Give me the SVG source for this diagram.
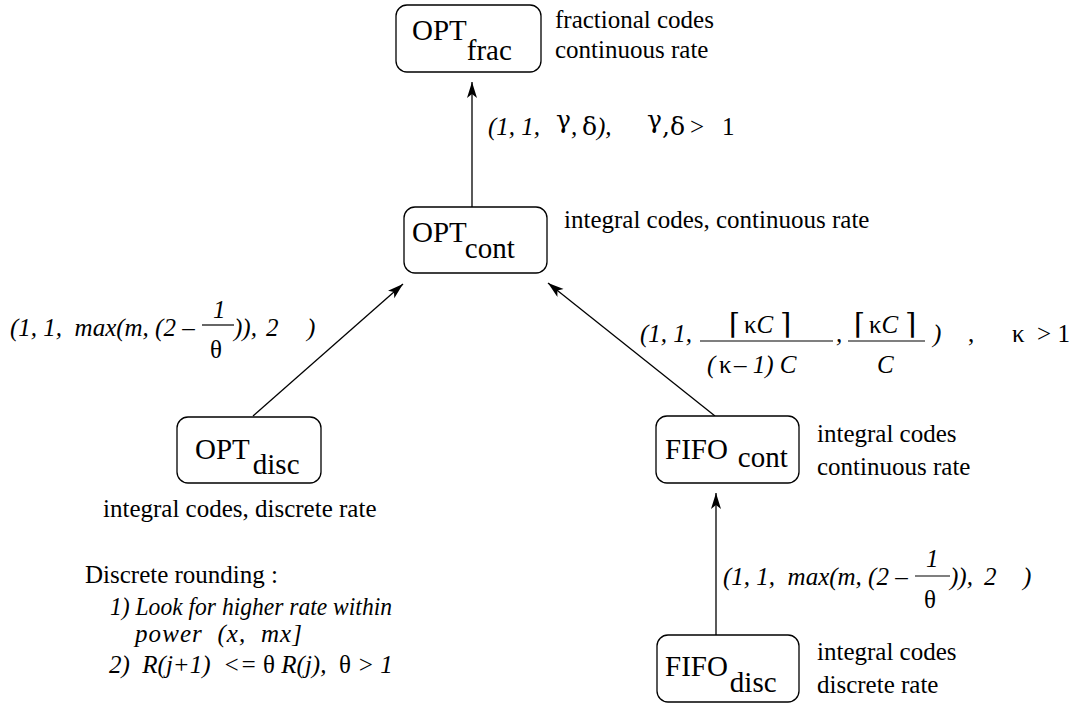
<svg xmlns="http://www.w3.org/2000/svg" width="1069" height="707" viewBox="0 0 1069 707">
<style>
  text { font-family: "Liberation Serif", "Times New Roman", "DejaVu Serif", serif; fill: #000; white-space: pre; }
  .node { font-size: 29px; }
  .lbl { font-size: 25px; }
  .it { font-size: 25px; font-style: italic; }
  .sym { font-size: 25px; font-family: "DejaVu Serif", "Liberation Serif", serif; }
  .ceil { font-size: 29px; font-family: "DejaVu Serif", "Liberation Serif", serif; }
  .box { fill: #fff; stroke: #000; stroke-width: 1.3; }
  .edge { stroke: #000; stroke-width: 1.3; fill: none; }
  .bar { stroke: #000; stroke-width: 1.2; }
</style>
<defs>
  <marker id="arr" markerUnits="userSpaceOnUse" markerWidth="18" markerHeight="12" refX="16" refY="5" orient="auto">
    <path d="M0,0 L16,5 L0,10 L4,5 Z" fill="#000"/>
  </marker>
</defs>

<g id="connectors">
  <line class="edge" x1="472" y1="207" x2="472" y2="82" marker-end="url(#arr)"/>
  <line class="edge" x1="253" y1="416" x2="403" y2="284" marker-end="url(#arr)"/>
  <line class="edge" x1="715" y1="416" x2="548" y2="283" marker-end="url(#arr)"/>
  <line class="edge" x1="716" y1="635" x2="716" y2="493" marker-end="url(#arr)"/>
</g>

<g id="opt-frac">
  <rect class="box" x="396" y="5" width="145" height="67" rx="11"/>
  <text class="node" x="412" y="40">OPT<tspan dy="20">frac</tspan></text>
  <text class="lbl" x="555" y="28">fractional codes</text>
  <text class="lbl" x="555" y="58">continuous rate</text>
</g>

<g id="opt-cont">
  <rect class="box" x="404" y="207" width="143" height="66" rx="11"/>
  <text class="node" x="412" y="242">OPT<tspan dy="16">cont</tspan></text>
  <text class="lbl" x="564" y="228">integral codes, continuous rate</text>
</g>

<g id="opt-disc">
  <rect class="box" x="177" y="417" width="144" height="66" rx="11"/>
  <text class="node" x="195" y="459">OPT<tspan dx="3" dy="15">disc</tspan></text>
  <text class="lbl" x="103" y="517">integral codes, discrete rate</text>
</g>

<g id="fifo-cont">
  <rect class="box" x="656" y="416" width="143" height="67" rx="11"/>
  <text class="node" x="665" y="459">FIFO<tspan dx="10" dy="8">cont</tspan></text>
  <text class="lbl" x="817" y="442">integral codes</text>
  <text class="lbl" x="817" y="475">continuous rate</text>
</g>

<g id="fifo-disc">
  <rect class="box" x="657" y="635" width="142" height="67" rx="11"/>
  <text class="node" x="665" y="676">FIFO<tspan dx="2" dy="16">disc</tspan></text>
  <text class="lbl" x="817" y="660">integral codes</text>
  <text class="lbl" x="817" y="693">discrete rate</text>
</g>

<g id="label-top">
  <text class="it" x="488" y="135">(1, 1,</text>
  <text class="sym" x="556" y="128">γ<tspan class="it" dy="7" style="font-family:'Liberation Serif',serif">,</tspan></text>
  <text class="sym" x="582" y="135">δ</text>
  <text class="it" x="597" y="135">),</text>
  <text class="sym" x="647" y="128">γ<tspan dy="7">,δ</tspan></text>
  <text class="lbl" x="690" y="135">&gt;</text>
  <text class="lbl" x="722" y="135">1</text>
</g>

<g id="label-left">
  <text class="it" x="10" y="336">(1, 1,  max(m, (2 –</text>
  <text class="it" x="213" y="318">1</text>
  <line class="bar" x1="202" y1="325" x2="234" y2="325"/>
  <text class="lbl" x="210" y="358">θ</text>
  <text class="it" x="234" y="336">)),</text>
  <text class="it" x="266" y="336">2</text>
  <text class="it" x="307" y="336">)</text>
</g>

<g id="label-right">
  <text class="it" x="640" y="342">(1, 1,</text>
  <line class="bar" x1="700" y1="341" x2="833" y2="341"/>
  <text class="ceil" x="729" y="334">⌈</text>
  <text class="lbl" x="744" y="333">κ<tspan font-style="italic">C</tspan></text>
  <text class="ceil" x="780" y="334">⌉</text>
  <text class="it" x="707" y="373">(</text>
  <text class="lbl" x="719" y="373">κ</text>
  <text class="it" x="734" y="373">– 1) C</text>
  <text class="it" x="836" y="342">,</text>
  <line class="bar" x1="848" y1="341" x2="925" y2="341"/>
  <text class="ceil" x="854" y="334">⌈</text>
  <text class="lbl" x="869" y="333">κ<tspan font-style="italic">C</tspan></text>
  <text class="ceil" x="905" y="334">⌉</text>
  <text class="it" x="877" y="373">C</text>
  <text class="it" x="933" y="342">)</text>
  <text class="lbl" x="968" y="342">,</text>
  <text class="lbl" x="1012" y="342">κ  &gt; 1</text>
</g>

<g id="label-fifo">
  <text class="it" x="723" y="585">(1, 1,  max(m, (2 –</text>
  <text class="it" x="926" y="567">1</text>
  <line class="bar" x1="915" y1="576" x2="950" y2="576"/>
  <text class="lbl" x="924" y="608">θ</text>
  <text class="it" x="950" y="585">)),</text>
  <text class="it" x="984" y="585">2</text>
  <text class="it" x="1023" y="585">)</text>
</g>

<g id="rounding-note">
  <text class="lbl" x="85" y="583">Discrete rounding :</text>
  <text class="it" x="110" y="615" textLength="282" lengthAdjust="spacingAndGlyphs">1) Look for higher rate within</text>
  <text class="it" x="135" y="642" textLength="167" lengthAdjust="spacing">power  (x,  mx]</text>
  <text class="it" x="109" y="673">2)  R(j+1)  &lt;= <tspan font-style="normal">θ</tspan> R(j),  <tspan font-style="normal">θ</tspan> &gt; 1</text>
</g>
</svg>
